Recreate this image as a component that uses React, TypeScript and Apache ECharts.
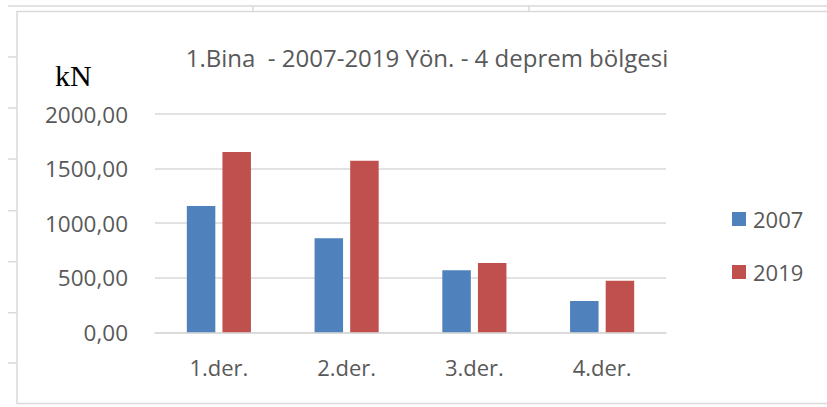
import React, { useEffect, useRef } from "react";
import * as echarts from "echarts";

const categories = ["1.der.", "2.der.", "3.der.", "4.der."];
const series2007 = [1157, 861, 568, 287];
const series2019 = [1651, 1571, 635, 473];
const seriesNames = ["2007", "2019"];
const yTicks = [0, 500, 1000, 1500, 2000];
const titleText = "1.Bina  - 2007-2019 Yön. - 4 deprem bölgesi";
const unitText = "kN";

const FONT = "'Open Sans', sans-serif";
const GRAY = "#595959";
const LINE = "#d9d9d9";

export default function App() {
  const ref = useRef<HTMLDivElement>(null);
  useEffect(() => {
    if (!ref.current) return;
    const chart = echarts.init(ref.current, undefined, { renderer: "svg" });
    const rowLines = [57, 108, 159, 210.7, 261.7, 312.7, 363].map((y) => ({
      type: "line",
      shape: { x1: 8, y1: y, x2: 17, y2: y },
      style: { stroke: LINE, lineWidth: 1.5 },
      silent: true,
    }));
    chart.setOption({
      animation: false,
      backgroundColor: "#ffffff",
      color: ["#4f81bd", "#c0504d"],
      grid: { left: 155, right: 161, top: 114, bottom: 74.7, containLabel: false },
      legend: {
        orient: "vertical",
        left: 727,
        top: 203,
        itemWidth: 14,
        itemHeight: 14,
        itemGap: 31,
        icon: "rect",
        data: seriesNames,
        textStyle: { fontFamily: FONT, fontSize: 22, color: GRAY, padding: [0, 0, 0, 2] },
      },
      xAxis: {
        type: "category",
        data: categories,
        axisLine: { lineStyle: { color: LINE, width: 1.5 } },
        axisTick: { show: false },
        axisLabel: { fontFamily: FONT, fontSize: 22, color: GRAY, margin: 24 },
      },
      yAxis: {
        type: "value",
        min: yTicks[0],
        max: yTicks[yTicks.length - 1],
        interval: yTicks[1] - yTicks[0],
        axisLine: { show: false },
        axisTick: { show: false },
        splitLine: { lineStyle: { color: LINE, width: 1.5 } },
        axisLabel: {
          fontFamily: FONT,
          fontSize: 22.5,
          color: GRAY,
          margin: 27,
          formatter: (v: number) => v.toFixed(2).replace(".", ","),
        },
      },
      series: [
        { name: seriesNames[0], type: "bar", data: series2007, barWidth: 28.5, barGap: "25%" },
        { name: seriesNames[1], type: "bar", data: series2019, barWidth: 28.5, barGap: "25%" },
      ],
      graphic: [
        {
          type: "line",
          shape: { x1: 8, y1: 6, x2: 827, y2: 6 },
          style: { stroke: LINE, lineWidth: 1.5 },
          silent: true,
        },
        {
          type: "line",
          shape: { x1: 253, y1: 6, x2: 253, y2: 11.5 },
          style: { stroke: LINE, lineWidth: 1.5 },
          silent: true,
        },
        {
          type: "line",
          shape: { x1: 529, y1: 6, x2: 529, y2: 11.5 },
          style: { stroke: LINE, lineWidth: 1.5 },
          silent: true,
        },
        ...rowLines,
        {
          type: "rect",
          shape: { x: 17, y: 11.5, width: 830, height: 392 },
          style: { fill: "none", stroke: LINE, lineWidth: 1.5 },
          silent: true,
        },
        {
          type: "text",
          x: 427,
          y: 57,
          style: {
            text: titleText,
            font: `24px ${FONT}`,
            fill: GRAY,
            textAlign: "center",
            textVerticalAlign: "middle",
          },
        },
        {
          type: "text",
          x: 55,
          y: 75,
          style: {
            text: unitText,
            font: `30px 'Liberation Serif', serif`,
            fill: "#000000",
            textAlign: "left",
            textVerticalAlign: "middle",
          },
        },
      ],
    });
    return () => chart.dispose();
  }, []);
  return <div ref={ref} style={{ width: 827, height: 407, position: "absolute", left: 0, top: 0 }} />;
}
